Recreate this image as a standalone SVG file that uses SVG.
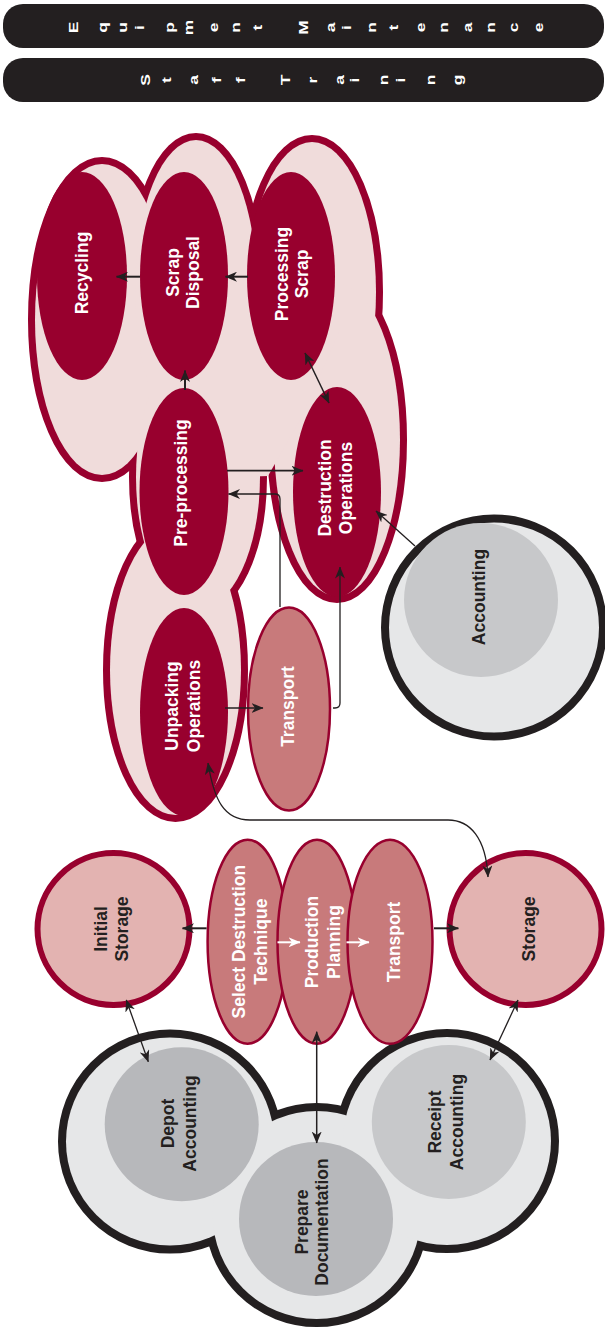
<svg xmlns="http://www.w3.org/2000/svg" width="605" height="1333" viewBox="0 0 605 1333">
<style>
.lbl{font-family:"Liberation Sans",Arial,Helvetica,sans-serif;font-weight:bold;font-size:17.5px;text-anchor:middle}
.w{fill:#fff}
.k{fill:#231f20}
.hd text{font-family:"Liberation Sans",Arial,Helvetica,sans-serif;font-weight:bold;font-size:12px;fill:#fff;text-anchor:middle;dominant-baseline:central}
.bar{fill:#231f20}
.lobeS{fill:none;stroke:#98002e;stroke-width:14}
.lobeF{fill:#f0dcdb;stroke:none}
.dark{fill:#98002e}
.rose{fill:#c87a7b;stroke:#98002e;stroke-width:2.5}
.stor{fill:#e3b3b1;stroke:#98002e;stroke-width:6}
.gS{fill:none;stroke:#231f20;stroke-width:16}
.gF{fill:#e6e7e8;stroke:none}
.g1{fill:#b7b8bb}
.g2{fill:#c7c8ca}
</style>
<defs>
<marker id="a" viewBox="0 0 12 10" markerWidth="12" markerHeight="10" refX="11.5" refY="5" orient="auto-start-reverse" markerUnits="userSpaceOnUse"><path d="M0,0 L12,5 L0,10 L3.5,5 Z" fill="#231f20"/></marker>
<marker id="aw" viewBox="0 0 12 10" markerWidth="12" markerHeight="10" refX="11.5" refY="5" orient="auto-start-reverse" markerUnits="userSpaceOnUse"><path d="M0,0 L12,5 L0,10 L3.5,5 Z" fill="#fff"/></marker>
</defs>

<g id="equipment-maintenance" class="hd">
<rect class="bar" x="3" y="4" width="601" height="44" rx="20"/>
<g transform="translate(0,27.5) rotate(-90) scale(1.45,1)">
<text x="0" y="74">E</text>
<text x="0" y="102.5">q</text>
<text x="0" y="122.5">u</text>
<text x="0" y="140">i</text>
<text x="0" y="170">p</text>
<text x="0" y="189">m</text>
<text x="0" y="214">e</text>
<text x="0" y="235.7">n</text>
<text x="0" y="257.3">t</text>
<text x="0" y="304">M</text>
<text x="0" y="331">a</text>
<text x="0" y="347">i</text>
<text x="0" y="372">n</text>
<text x="0" y="394">t</text>
<text x="0" y="421">e</text>
<text x="0" y="444">n</text>
<text x="0" y="467.5">a</text>
<text x="0" y="491">n</text>
<text x="0" y="514">c</text>
<text x="0" y="539">e</text>
</g>
</g>
<g id="staff-training" class="hd">
<rect class="bar" x="3" y="58" width="601" height="44" rx="20"/>
<g transform="translate(0,80) rotate(-90) scale(1.45,1)">
<text x="0" y="146">S</text>
<text x="0" y="167">t</text>
<text x="0" y="194">a</text>
<text x="0" y="217">f</text>
<text x="0" y="241">f</text>
<text x="0" y="286">T</text>
<text x="0" y="313">r</text>
<text x="0" y="339.5">a</text>
<text x="0" y="355">i</text>
<text x="0" y="384">n</text>
<text x="0" y="401">i</text>
<text x="0" y="431">n</text>
<text x="0" y="458">g</text>
</g>
</g>

<g id="cloud">
<ellipse class="lobeS" cx="102" cy="319.5" rx="67" ry="155.5"/>
<ellipse class="lobeS" cx="196" cy="290" rx="61" ry="150"/>
<ellipse class="lobeS" cx="312" cy="292" rx="64" ry="150"/>
<ellipse class="lobeS" cx="198" cy="477" rx="62" ry="132"/>
<ellipse class="lobeS" cx="337" cy="440" rx="63" ry="156"/>
<ellipse class="lobeS" cx="175.5" cy="670" rx="65.5" ry="145"/>
<ellipse class="lobeF" cx="102" cy="319.5" rx="67" ry="155.5"/>
<ellipse class="lobeF" cx="196" cy="290" rx="61" ry="150"/>
<ellipse class="lobeF" cx="312" cy="292" rx="64" ry="150"/>
<ellipse class="lobeF" cx="198" cy="477" rx="62" ry="132"/>
<ellipse class="lobeF" cx="337" cy="440" rx="63" ry="156"/>
<ellipse class="lobeF" cx="175.5" cy="670" rx="65.5" ry="145"/>
<polygon class="lobeF" points="150,260 330,260 340,330 300,420 268,476 220,478 150,420"/>
</g>

<g id="grey-cloud">
<circle class="gS" cx="170" cy="1141.5" r="104"/>
<circle class="gS" cx="316.7" cy="1215" r="104"/>
<circle class="gS" cx="447" cy="1141" r="104"/>
<circle class="gF" cx="170" cy="1141.5" r="104"/>
<circle class="gF" cx="316.7" cy="1215" r="104"/>
<circle class="gF" cx="447" cy="1141" r="104"/>
</g>

<g id="recycling">
<ellipse class="dark" cx="82" cy="276" rx="45" ry="104"/>
<text class="lbl w" transform="rotate(-90)" x="-273" y="87.5">Recycling</text>
</g>
<g id="scrap-disposal">
<ellipse class="dark" cx="184" cy="276" rx="44" ry="104"/>
<text class="lbl w" transform="rotate(-90)" x="-272.5"><tspan y="179.2">Scrap</tspan><tspan x="-272.5" y="199.2">Disposal</tspan></text>
</g>
<g id="processing-scrap">
<ellipse class="dark" cx="291" cy="276" rx="44" ry="104"/>
<text class="lbl w" transform="rotate(-90)" x="-274"><tspan y="287.5">Processing</tspan><tspan x="-274" y="307.5">Scrap</tspan></text>
</g>
<g id="pre-processing">
<ellipse class="dark" cx="184" cy="491.5" rx="44.5" ry="103.5"/>
<text class="lbl w" transform="rotate(-90)" x="-483" y="186.5">Pre-processing</text>
</g>
<g id="destruction-operations">
<ellipse class="dark" cx="337" cy="492" rx="44" ry="105"/>
<text class="lbl w" transform="rotate(-90)" x="-488"><tspan y="331">Destruction</tspan><tspan x="-488" y="352">Operations</tspan></text>
</g>
<g id="unpacking-operations">
<ellipse class="dark" cx="184" cy="712" rx="44" ry="104"/>
<text class="lbl w" transform="rotate(-90)" x="-706"><tspan y="177.5">Unpacking</tspan><tspan x="-706" y="199.5">Operations</tspan></text>
</g>
<g id="transport-top">
<ellipse class="rose" cx="289" cy="709" rx="41" ry="101.5"/>
<text class="lbl w" transform="rotate(-90)" x="-706.5" y="294.2">Transport</text>
</g>
<g id="accounting">
<circle cx="494" cy="627.5" r="109" fill="#e6e7e8" stroke="#231f20" stroke-width="8"/>
<circle class="g2" cx="481" cy="600" r="77"/>
<text class="lbl k" transform="rotate(-90)" x="-597" y="485">Accounting</text>
</g>

<g id="initial-storage">
<circle class="stor" cx="113.5" cy="929" r="76"/>
<text class="lbl k" transform="rotate(-90)" x="-929"><tspan y="107.1">Initial</tspan><tspan x="-929" y="127.5">Storage</tspan></text>
</g>
<g id="storage">
<circle class="stor" cx="525.5" cy="929" r="76"/>
<text class="lbl k" transform="rotate(-90)" x="-929" y="534.5">Storage</text>
</g>
<g id="select-destruction-technique">
<ellipse class="rose" cx="247.6" cy="941.7" rx="40" ry="102"/>
<text class="lbl w" transform="rotate(-90)" x="-941.7"><tspan y="245.2">Select Destruction</tspan><tspan x="-941.7" y="266.5">Technique</tspan></text>
</g>
<g id="production-planning">
<ellipse class="rose" cx="317" cy="941.7" rx="39.5" ry="102"/>
<text class="lbl w" transform="rotate(-90)" x="-942"><tspan y="318">Production</tspan><tspan x="-942" y="340.3">Planning</tspan></text>
</g>
<g id="transport-mid">
<ellipse class="rose" cx="390" cy="941.7" rx="42.5" ry="102"/>
<text class="lbl w" transform="rotate(-90)" x="-942" y="400">Transport</text>
</g>

<g id="depot-accounting">
<circle class="g1" cx="181.7" cy="1124.3" r="77"/>
<text class="lbl k" transform="rotate(-90)" x="-1123.5"><tspan y="174.2">Depot</tspan><tspan x="-1123.5" y="195.5">Accounting</tspan></text>
</g>
<g id="prepare-documentation">
<circle class="g1" cx="316" cy="1219" r="77"/>
<text class="lbl k" transform="rotate(-90)" x="-1222"><tspan y="307.5">Prepare</tspan><tspan x="-1222" y="327.5">Documentation</tspan></text>
</g>
<g id="receipt-accounting">
<circle class="g2" cx="448.8" cy="1122" r="77"/>
<text class="lbl k" transform="rotate(-90)" x="-1122"><tspan y="440.5">Receipt</tspan><tspan x="-1122" y="462.5">Accounting</tspan></text>
</g>

<g id="connectors" fill="none" stroke="#231f20">
<path d="M140,276.7H116.5" stroke-width="2" marker-end="url(#a)"/>
<path d="M248,276.7H225.5" stroke-width="2" marker-end="url(#a)"/>
<path d="M185,390V370.5" stroke-width="2" marker-end="url(#a)"/>
<path d="M305,353L329,403" stroke-width="1.5" marker-start="url(#a)" marker-end="url(#a)"/>
<path d="M227,470.7H303" stroke-width="1.7" marker-end="url(#a)"/>
<path d="M280,607V499Q280,494 275,494H228.5" stroke-width="1.3" marker-end="url(#a)"/>
<path d="M333,708H335Q340,708 340,703V567" stroke-width="1.3" marker-end="url(#a)"/>
<path d="M225,708H263" stroke-width="1.7" marker-end="url(#a)"/>
<path d="M415,546L376,511" stroke-width="1.3" marker-end="url(#a)"/>
<path d="M208,763C214,800 224,820 250,820H448C470,820 486,838 488,877" stroke-width="1.3" marker-start="url(#a)" marker-end="url(#a)"/>
<path d="M206.6,928.3H182.5" stroke-width="2" marker-end="url(#a)"/>
<path d="M277.5,942.3H300" stroke="#fff" stroke-width="2" marker-end="url(#aw)"/>
<path d="M346.5,942.3H369" stroke="#fff" stroke-width="2" marker-end="url(#aw)"/>
<path d="M434,928.3H458.4" stroke-width="2" marker-end="url(#a)"/>
<path d="M126.3,1000L148.3,1061.7" stroke-width="1.3" marker-start="url(#a)" marker-end="url(#a)"/>
<path d="M316.7,1031.7V1143" stroke-width="1.5" marker-start="url(#a)" marker-end="url(#a)"/>
<path d="M518,1000L490,1060" stroke-width="1.3" marker-start="url(#a)" marker-end="url(#a)"/>
</g>
</svg>
